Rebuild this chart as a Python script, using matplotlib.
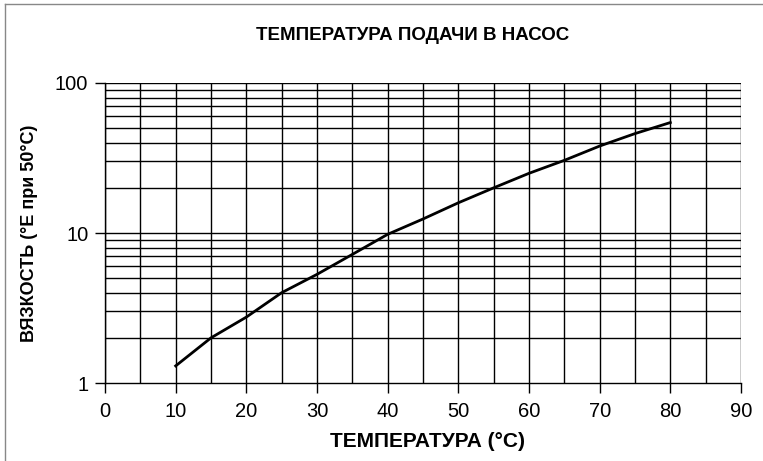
import matplotlib
matplotlib.use("Agg")
import matplotlib.pyplot as plt
from matplotlib.lines import Line2D
from matplotlib.ticker import FixedLocator, NullFormatter, NullLocator

plt.rcParams['font.family'] = ['Liberation Sans', 'DejaVu Sans']

temperature = [10, 15, 20, 25, 30, 35, 40, 45, 50, 55, 60, 65, 70, 75, 80]
viscosity = [1.3, 2.0, 2.75, 4.0, 5.3, 7.2, 9.8, 12.4, 15.9, 20.0, 25.0, 30.5, 38.0, 46.0, 54.5]

x_ticks = [0, 10, 20, 30, 40, 50, 60, 70, 80, 90]
x_grid = [0, 5, 10, 15, 20, 25, 30, 35, 40, 45, 50, 55, 60, 65, 70, 75, 80, 85, 90]
y_ticks = [1, 10, 100]
y_tick_labels = ["1", "10", "100"]
y_grid = [2, 3, 4, 5, 6, 7, 8, 9, 10, 20, 30, 40, 50, 60, 70, 80, 90, 100]

title = "ТЕМПЕРАТУРА ПОДАЧИ В НАСОС"
x_label = "ТЕМПЕРАТУРА (°C)"
y_label = "ВЯЗКОСТЬ (°Е при 50°С)"

W, H = 763, 461
fig = plt.figure(figsize=(W / 100, H / 100), dpi=100)
ax = fig.add_axes([105 / W, 1 - 383 / H, (741 - 105) / W, (383 - 83) / H])

ax.set_yscale('log')
ax.set_xlim(0, 90)
ax.set_ylim(1, 100)

# grid lines
for gx in x_grid:
    ax.axvline(gx, color='black', lw=1.0, zorder=1)
for gy in y_grid:
    ax.axhline(gy, color='black', lw=1.0, zorder=1)

ax.plot(temperature, viscosity, color='black', lw=2.0, zorder=3)

ax.xaxis.set_major_locator(FixedLocator(x_ticks))
ax.xaxis.set_minor_locator(NullLocator())
ax.yaxis.set_major_locator(FixedLocator(y_ticks))
ax.yaxis.set_minor_locator(NullLocator())
ax.yaxis.set_minor_formatter(NullFormatter())
ax.set_yticklabels(y_tick_labels)

ax.tick_params(axis='both', direction='out', length=7, width=1.0, color='black',
               labelsize=14.5, pad=7)
ax.tick_params(axis='y', pad=5)

for side in ['top', 'right']:
    ax.spines[side].set_visible(False)
for side in ['left', 'bottom']:
    ax.spines[side].set_linewidth(1.0)

fig.text(413 / W, 1 - 35 / H, title, ha='center', va='center',
         fontsize=13.5, fontweight='bold')
fig.text(427 / W, 1 - 441 / H, x_label, ha='center', va='center',
         fontsize=15, fontweight='bold')
fig.text(30 / W, 1 - 233 / H, y_label, ha='center', va='center',
         fontsize=13, fontweight='bold', rotation=90)

# frame lines along the left and top edges of the figure
fig.add_artist(Line2D([5 / W, 5 / W], [0, 1 - 4 / H], transform=fig.transFigure,
                      color='#888888', lw=1.0))
fig.add_artist(Line2D([5 / W, 1], [1 - 4 / H, 1 - 4 / H], transform=fig.transFigure,
                      color='#888888', lw=1.0))

fig.savefig("out.png", dpi=100)
